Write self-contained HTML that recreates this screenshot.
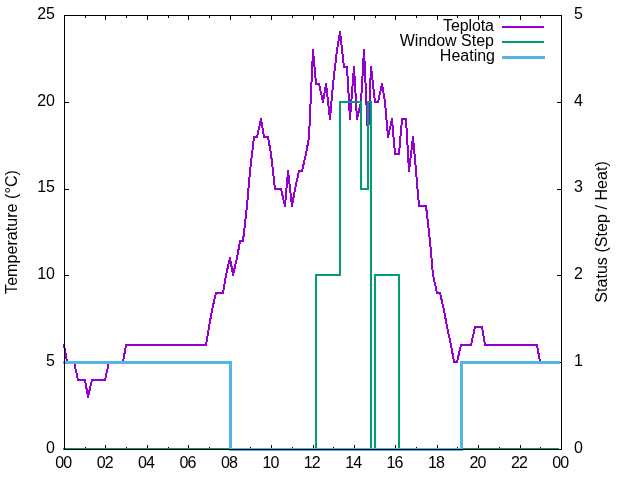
<!DOCTYPE html>
<html><head><meta charset="utf-8"><title>Teplota</title>
<style>
html,body{margin:0;padding:0;background:#fff;}
svg{display:block;}
text{font-family:"Liberation Sans",Arial,sans-serif;font-size:16px;fill:#000;}
</style></head><body>
<svg width="640" height="480" viewBox="0 0 640 480">
<rect width="640" height="480" fill="#fff"/>
<g fill="#000" shape-rendering="crispEdges">
<rect x="64" y="15" width="1" height="5"/>
<rect x="64" y="445" width="1" height="5"/>
<rect x="85" y="15" width="1" height="3"/>
<rect x="85" y="447" width="1" height="3"/>
<rect x="105" y="15" width="1" height="5"/>
<rect x="105" y="445" width="1" height="5"/>
<rect x="126" y="15" width="1" height="3"/>
<rect x="126" y="447" width="1" height="3"/>
<rect x="147" y="15" width="1" height="5"/>
<rect x="147" y="445" width="1" height="5"/>
<rect x="168" y="15" width="1" height="3"/>
<rect x="168" y="447" width="1" height="3"/>
<rect x="188" y="15" width="1" height="5"/>
<rect x="188" y="445" width="1" height="5"/>
<rect x="209" y="15" width="1" height="3"/>
<rect x="209" y="447" width="1" height="3"/>
<rect x="230" y="15" width="1" height="5"/>
<rect x="230" y="445" width="1" height="5"/>
<rect x="250" y="15" width="1" height="3"/>
<rect x="250" y="447" width="1" height="3"/>
<rect x="271" y="15" width="1" height="5"/>
<rect x="271" y="445" width="1" height="5"/>
<rect x="292" y="15" width="1" height="3"/>
<rect x="292" y="447" width="1" height="3"/>
<rect x="313" y="15" width="1" height="5"/>
<rect x="313" y="445" width="1" height="5"/>
<rect x="333" y="15" width="1" height="3"/>
<rect x="333" y="447" width="1" height="3"/>
<rect x="354" y="15" width="1" height="5"/>
<rect x="354" y="445" width="1" height="5"/>
<rect x="375" y="15" width="1" height="3"/>
<rect x="375" y="447" width="1" height="3"/>
<rect x="395" y="15" width="1" height="5"/>
<rect x="395" y="445" width="1" height="5"/>
<rect x="416" y="15" width="1" height="3"/>
<rect x="416" y="447" width="1" height="3"/>
<rect x="437" y="15" width="1" height="5"/>
<rect x="437" y="445" width="1" height="5"/>
<rect x="457" y="15" width="1" height="3"/>
<rect x="457" y="447" width="1" height="3"/>
<rect x="478" y="15" width="1" height="5"/>
<rect x="478" y="445" width="1" height="5"/>
<rect x="499" y="15" width="1" height="3"/>
<rect x="499" y="447" width="1" height="3"/>
<rect x="520" y="15" width="1" height="5"/>
<rect x="520" y="445" width="1" height="5"/>
<rect x="540" y="15" width="1" height="3"/>
<rect x="540" y="447" width="1" height="3"/>
<rect x="561" y="15" width="1" height="5"/>
<rect x="561" y="445" width="1" height="5"/>
<rect x="64" y="449" width="5" height="1"/>
<rect x="557" y="449" width="5" height="1"/>
<rect x="64" y="362" width="5" height="1"/>
<rect x="557" y="362" width="5" height="1"/>
<rect x="64" y="275" width="5" height="1"/>
<rect x="557" y="275" width="5" height="1"/>
<rect x="64" y="189" width="5" height="1"/>
<rect x="557" y="189" width="5" height="1"/>
<rect x="64" y="102" width="5" height="1"/>
<rect x="557" y="102" width="5" height="1"/>
<rect x="64" y="15" width="5" height="1"/>
<rect x="557" y="15" width="5" height="1"/>
</g>
<g fill="none" shape-rendering="crispEdges" stroke-linecap="butt">
<polyline points="64.00,345.00 67.00,362.00 71.00,362.00 74.00,362.00 78.00,380.00 81.00,380.00 85.00,380.00 88.00,397.00 92.00,380.00 95.00,380.00 99.00,380.00 102.00,380.00 105.00,380.00 109.00,362.00 112.00,362.00 116.00,362.00 119.00,362.00 123.00,362.00 126.00,345.00 130.00,345.00 133.00,345.00 136.00,345.00 140.00,345.00 143.00,345.00 147.00,345.00 150.00,345.00 154.00,345.00 157.00,345.00 161.00,345.00 164.00,345.00 168.00,345.00 171.00,345.00 174.00,345.00 178.00,345.00 181.00,345.00 185.00,345.00 188.00,345.00 192.00,345.00 195.00,345.00 199.00,345.00 202.00,345.00 206.00,345.00 209.00,327.00 212.00,310.00 216.00,293.00 219.00,293.00 223.00,293.00 226.00,275.00 230.00,258.00 233.00,275.00 237.00,258.00 240.00,241.00 243.00,241.00 247.00,206.00 250.00,171.00 254.00,137.00 257.00,137.00 261.00,119.00 264.00,137.00 268.00,137.00 271.00,154.00 275.00,189.00 278.00,189.00 281.00,189.00 285.00,206.00 288.00,171.00 292.00,206.00 295.00,189.00 299.00,171.00 302.00,171.00 306.00,154.00 309.00,137.00 313.00,50.00 316.00,84.00 319.00,84.00 323.00,102.00 326.00,84.00 330.00,119.00 333.00,84.00 337.00,50.00 340.00,32.00 344.00,67.00 347.00,67.00 350.00,119.00 354.00,67.00 357.00,119.00 361.00,102.00 364.00,50.00 368.00,137.00 371.00,67.00 375.00,102.00 378.00,102.00 382.00,84.00 385.00,102.00 388.00,137.00 392.00,119.00 395.00,154.00 399.00,154.00 402.00,119.00 406.00,119.00 409.00,171.00 413.00,137.00 416.00,171.00 419.00,206.00 423.00,206.00 426.00,206.00 430.00,241.00 433.00,275.00 437.00,293.00 440.00,293.00 444.00,310.00 447.00,327.00 451.00,345.00 454.00,362.00 457.00,362.00 461.00,345.00 464.00,345.00 468.00,345.00 471.00,345.00 475.00,327.00 478.00,327.00 482.00,327.00 485.00,345.00 489.00,345.00 492.00,345.00 495.00,345.00 499.00,345.00 502.00,345.00 506.00,345.00 509.00,345.00 513.00,345.00 516.00,345.00 520.00,345.00 523.00,345.00 526.00,345.00 530.00,345.00 533.00,345.00 537.00,345.00 540.00,362.00" stroke="#9400d3" stroke-width="2" stroke-linejoin="round" stroke-linecap="square"/>
<polyline points="62.96,449.00 315.95,449.00 315.95,275.40 340.11,275.40 340.11,101.80 360.82,101.80 360.82,188.60 367.72,188.60 367.72,101.80 371.17,101.80 371.17,449.00 374.62,449.00 374.62,275.40 398.78,275.40 398.78,449.00 559.03,449.00" stroke="#009e73" stroke-width="2"/>
<polyline points="63.01,362.70 230.17,362.70 230.17,449.50 461.41,449.50 461.41,362.70 560.00,362.70" stroke="#56b4e9" stroke-width="3"/>
<line x1="502" y1="27" x2="544" y2="27" stroke="#9400d3" stroke-width="2"/>
<line x1="502" y1="42" x2="544" y2="42" stroke="#009e73" stroke-width="2"/>
<line x1="502" y1="57.5" x2="545" y2="57.5" stroke="#56b4e9" stroke-width="3"/>
</g>
<g fill="#000" shape-rendering="crispEdges">
<rect x="64" y="15" width="498" height="1"/>
<rect x="64" y="449" width="498" height="1"/>
<rect x="64" y="15" width="1" height="435"/>
<rect x="561" y="15" width="1" height="435"/>
</g>
<g>
<text x="55" y="452.7" text-anchor="end">0</text>
<text x="574" y="452.7">0</text>
<text x="55" y="365.9" text-anchor="end">5</text>
<text x="574" y="365.9">1</text>
<text x="55" y="279.1" text-anchor="end">10</text>
<text x="574" y="279.1">2</text>
<text x="55" y="192.3" text-anchor="end">15</text>
<text x="574" y="192.3">3</text>
<text x="55" y="105.5" text-anchor="end">20</text>
<text x="574" y="105.5">4</text>
<text x="55" y="18.7" text-anchor="end">25</text>
<text x="574" y="18.7">5</text>
<text x="63.3" y="468" text-anchor="middle" letter-spacing="-0.9">00</text>
<text x="104.7" y="468" text-anchor="middle" letter-spacing="-0.9">02</text>
<text x="146.1" y="468" text-anchor="middle" letter-spacing="-0.9">04</text>
<text x="187.6" y="468" text-anchor="middle" letter-spacing="-0.9">06</text>
<text x="229.0" y="468" text-anchor="middle" letter-spacing="-0.9">08</text>
<text x="270.4" y="468" text-anchor="middle" letter-spacing="-0.9">10</text>
<text x="311.8" y="468" text-anchor="middle" letter-spacing="-0.9">12</text>
<text x="353.2" y="468" text-anchor="middle" letter-spacing="-0.9">14</text>
<text x="394.6" y="468" text-anchor="middle" letter-spacing="-0.9">16</text>
<text x="436.1" y="468" text-anchor="middle" letter-spacing="-0.9">18</text>
<text x="477.5" y="468" text-anchor="middle" letter-spacing="-0.9">20</text>
<text x="518.9" y="468" text-anchor="middle" letter-spacing="-0.9">22</text>
<text x="560.3" y="468" text-anchor="middle" letter-spacing="-0.9">00</text>
<text x="493.9" y="31" text-anchor="end" letter-spacing="-0.1">Teplota</text>
<text x="494" y="46" text-anchor="end">Window Step</text>
<text x="495" y="61" text-anchor="end">Heating</text>
<text transform="translate(17,232) rotate(-90)" text-anchor="middle" letter-spacing="0.06">Temperature (°C)</text>
<text transform="translate(607,232) rotate(-90)" text-anchor="middle" letter-spacing="0.05">Status (Step / Heat)</text>
</g>
</svg>
</body></html>
